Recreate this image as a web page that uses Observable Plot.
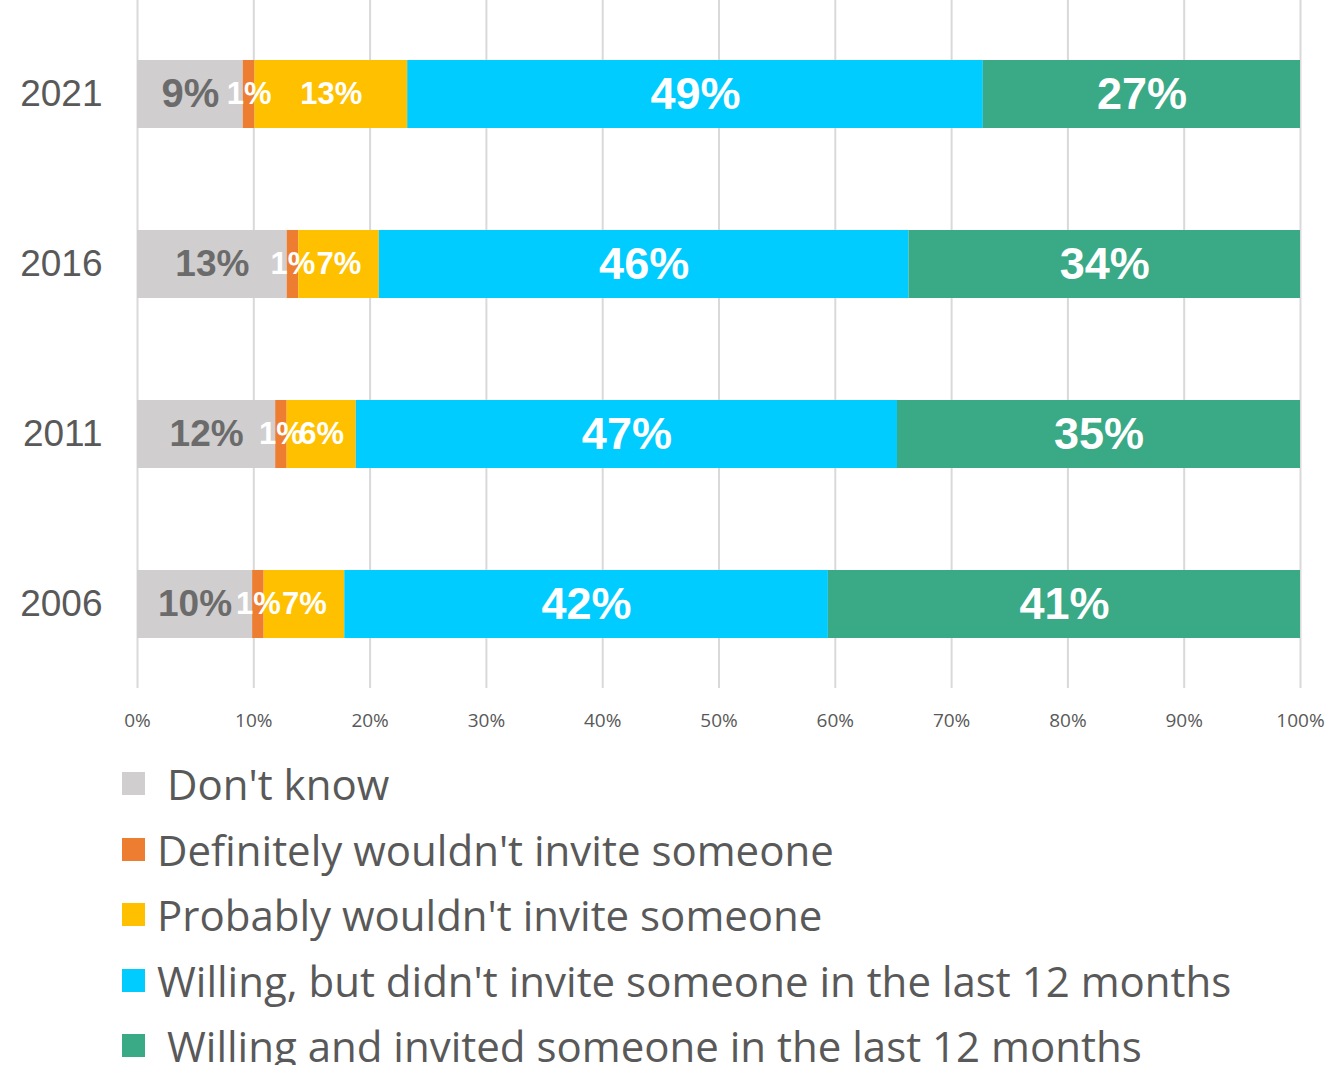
<!DOCTYPE html>
<html>
<head>
<meta charset="utf-8">
<script src="https://cdn.jsdelivr.net/npm/d3@7"></script>
<script src="https://cdn.jsdelivr.net/npm/@observablehq/plot@0.6"></script>
<style>
  html, body { margin: 0; padding: 0; background: #fff; }
  #chart { width: 1330px; }
  .legend { padding-top: 6px; }
  .legend .row { display: flex; align-items: center; height: 65.5px; }
  .legend .sw { width: 23px; height: 23px; margin-left: 122px; margin-right: 12px; flex: none; }
  .legend .lbl { font-family: "Open Sans", "Noto Sans", sans-serif; font-size: 42px; color: #595959; white-space: pre; }
</style>
</head>
<body>
<div id="chart"></div>
<script>
const years = ["2021", "2016", "2011", "2006"];
const seriesNames = [
  "Don't know",
  "Definitely wouldn't invite someone",
  "Probably wouldn't invite someone",
  "Willing, but didn't invite someone in the last 12 months",
  "Willing and invited someone in the last 12 months"
];
const colors = ["#D0CECE", "#ED7D31", "#FFC000", "#00CCFF", "#3AA986"];
const dontKnow       = [9, 13, 12, 10];
const definitelyNot  = [1, 1, 1, 1];
const probablyNot    = [13, 7, 6, 7];
const willingNot     = [49, 46, 47, 42];
const willingInvited = [27, 34, 35, 41];
const xTicks = [0, 0.1, 0.2, 0.3, 0.4, 0.5, 0.6, 0.7, 0.8, 0.9, 1];

const seriesValues = [dontKnow, definitelyNot, probablyNot, willingNot, willingInvited];
const rows = [];
years.forEach((y, i) => {
  seriesNames.forEach((s, j) => {
    rows.push({year: y, series: s, value: seriesValues[j][i]});
  });
});

// label styling by series (style, not data)
const labelSize = d => {
  const j = seriesNames.indexOf(d.series);
  if (j === 0) return d.value < 10 ? 40 : 37;
  if (j === 1 || j === 2) return 31;
  return 45;
};

const stackOpts = {x: "value", y: "year", offset: "normalize"};
const labelFont = {fontSize: labelSize, fontWeight: "bold", fontFamily: "Liberation Sans, Arial, sans-serif"};

const plot = Plot.plot({
  width: 1330,
  height: 745,
  marginLeft: 137,
  marginRight: 30,
  marginTop: 0,
  marginBottom: 57,
  x: {domain: [0, 1]},
  y: {domain: years, padding: 0.6, paddingOuter: 0.317, align: 0.546},
  color: {domain: seriesNames, range: colors},
  marks: [
    Plot.gridX(xTicks, {stroke: "#D9D9D9", strokeOpacity: 1, strokeWidth: 2}),
    Plot.barX(rows, Plot.stackX({...stackOpts, fill: "series"})),
    Plot.text(rows, Plot.stackX({
      ...stackOpts, text: d => d.series === seriesNames[0] ? d.value + "%" : "",
      fill: "#6B6B6B", ...labelFont
    })),
    Plot.text(rows, Plot.stackX({
      ...stackOpts, text: d => d.series === seriesNames[0] ? "" : d.value + "%",
      fill: "white", ...labelFont
    })),
    Plot.axisX(xTicks, {
      tickSize: 0, tickPadding: 25, tickFormat: d3.format(".0%"),
      fontSize: 19, fontFamily: "Open Sans, sans-serif", fill: "#595959", label: null
    }),
    Plot.axisY({
      tickSize: 0, tickPadding: 35, fontSize: 37,
      fontFamily: "Liberation Sans, Arial, sans-serif", fill: "#595959", label: null
    })
  ]
});
document.getElementById("chart").appendChild(plot);

const legend = document.createElement("div");
legend.className = "legend";
seriesNames.forEach((s, j) => {
  const row = document.createElement("div");
  row.className = "row";
  const sw = document.createElement("div");
  sw.className = "sw";
  sw.style.background = colors[j];
  const lbl = document.createElement("div");
  lbl.className = "lbl";
  lbl.textContent = s;
  if (j === 0 || j === 4) lbl.style.marginLeft = "10px";
  row.appendChild(sw);
  row.appendChild(lbl);
  legend.appendChild(row);
});
document.getElementById("chart").appendChild(legend);
</script>
</body>
</html>
